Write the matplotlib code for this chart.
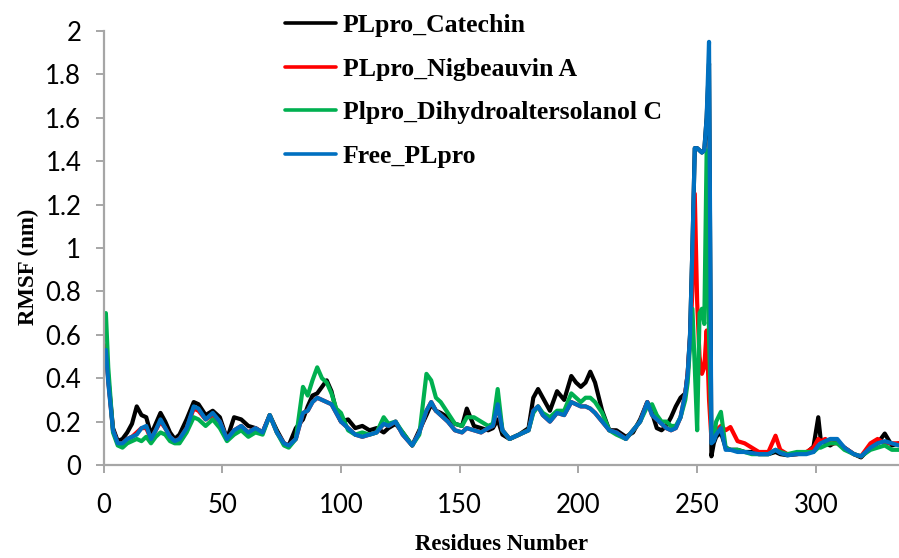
import matplotlib
matplotlib.use("Agg")
import matplotlib.pyplot as plt

residues = [1, 2, 4, 6, 8, 10, 12, 14, 16, 18, 20, 22, 24, 26, 28, 30, 32, 35, 38, 40,
            43, 46, 49, 52, 55, 58, 61, 64, 67, 70, 73, 76, 78, 81, 84, 86, 88, 90, 92, 94,
            96, 98, 100, 103, 106, 109, 112, 115, 118, 120, 123, 126, 130, 133, 136, 138, 140, 142, 145, 148,
            151, 153, 156, 159, 162, 164, 166, 168, 171, 175, 179, 181, 183, 185, 188, 191, 194, 197, 199, 201,
            203, 205, 207, 210, 213, 216, 220, 223, 226, 229, 231, 233, 235, 237, 239, 241, 243, 245, 246, 247,
            248, 249, 250, 251, 252, 253, 254, 255, 256, 257, 258, 260, 262, 264, 267, 270, 273, 276, 280, 283,
            285, 288, 292, 296, 299, 301, 302, 304, 306, 309, 312, 316, 319, 323, 326, 329, 332, 335]

catechin = [0.55, 0.40, 0.17, 0.11, 0.12, 0.15, 0.19, 0.27, 0.23, 0.22, 0.14, 0.19, 0.24, 0.20, 0.15, 0.12, 0.14, 0.21, 0.29, 0.28,
            0.23, 0.25, 0.22, 0.12, 0.22, 0.21, 0.18, 0.17, 0.15, 0.23, 0.16, 0.10, 0.09, 0.17, 0.21, 0.27, 0.32, 0.33, 0.36, 0.39,
            0.34, 0.25, 0.20, 0.21, 0.17, 0.18, 0.16, 0.17, 0.15, 0.17, 0.19, 0.15, 0.09, 0.16, 0.23, 0.28, 0.25, 0.24, 0.22, 0.19,
            0.18, 0.26, 0.18, 0.17, 0.16, 0.17, 0.21, 0.14, 0.12, 0.14, 0.17, 0.31, 0.35, 0.31, 0.25, 0.34, 0.30, 0.41, 0.38, 0.36,
            0.38, 0.43, 0.38, 0.25, 0.16, 0.16, 0.13, 0.15, 0.21, 0.29, 0.24, 0.17, 0.16, 0.18, 0.22, 0.27, 0.31, 0.33, 0.42, 0.60,
            1.00, 1.46, 1.46, 1.45, 1.44, 1.45, 1.60, 1.85, 0.04, 0.10, 0.13, 0.15, 0.08, 0.07, 0.07, 0.06, 0.06, 0.05, 0.05, 0.06,
            0.05, 0.045, 0.05, 0.055, 0.085, 0.22, 0.12, 0.10, 0.09, 0.11, 0.08, 0.05, 0.035, 0.08, 0.10, 0.145, 0.09, 0.10]

nigbeauvin = [0.55, 0.39, 0.16, 0.10, 0.10, 0.12, 0.13, 0.15, 0.17, 0.17, 0.12, 0.16, 0.20, 0.17, 0.13, 0.11, 0.12, 0.17, 0.26, 0.25,
              0.21, 0.23, 0.20, 0.12, 0.16, 0.18, 0.15, 0.17, 0.15, 0.23, 0.15, 0.10, 0.09, 0.12, 0.24, 0.25, 0.29, 0.31, 0.30, 0.29,
              0.28, 0.24, 0.20, 0.17, 0.14, 0.13, 0.14, 0.15, 0.19, 0.18, 0.20, 0.14, 0.09, 0.15, 0.25, 0.29, 0.25, 0.23, 0.20, 0.16,
              0.15, 0.17, 0.16, 0.15, 0.17, 0.18, 0.28, 0.16, 0.12, 0.14, 0.16, 0.25, 0.27, 0.23, 0.20, 0.24, 0.23, 0.29, 0.28, 0.27,
              0.27, 0.26, 0.24, 0.20, 0.16, 0.15, 0.12, 0.16, 0.20, 0.29, 0.23, 0.21, 0.19, 0.17, 0.16, 0.17, 0.22, 0.33, 0.42, 0.58,
              0.80, 1.25, 0.75, 0.50, 0.42, 0.45, 0.62, 0.30, 0.12, 0.14, 0.16, 0.18, 0.16, 0.175, 0.11, 0.10, 0.08, 0.06, 0.06, 0.135,
              0.07, 0.05, 0.05, 0.06, 0.08, 0.12, 0.11, 0.12, 0.10, 0.10, 0.08, 0.05, 0.04, 0.10, 0.12, 0.10, 0.10, 0.10]

dihydro = [0.70, 0.45, 0.15, 0.09, 0.08, 0.10, 0.11, 0.12, 0.11, 0.13, 0.10, 0.13, 0.15, 0.14, 0.11, 0.10, 0.10, 0.15, 0.22, 0.21,
           0.18, 0.21, 0.17, 0.11, 0.14, 0.16, 0.13, 0.15, 0.14, 0.23, 0.15, 0.09, 0.08, 0.12, 0.36, 0.32, 0.39, 0.45, 0.40, 0.38,
           0.33, 0.26, 0.24, 0.16, 0.14, 0.15, 0.14, 0.15, 0.22, 0.19, 0.20, 0.15, 0.09, 0.14, 0.42, 0.39, 0.31, 0.29, 0.24, 0.19,
           0.18, 0.22, 0.22, 0.20, 0.18, 0.19, 0.35, 0.16, 0.12, 0.14, 0.16, 0.24, 0.27, 0.24, 0.22, 0.25, 0.25, 0.33, 0.31, 0.29,
           0.31, 0.31, 0.29, 0.24, 0.16, 0.14, 0.12, 0.16, 0.20, 0.27, 0.28, 0.23, 0.20, 0.20, 0.18, 0.18, 0.22, 0.30, 0.38, 0.55,
           0.72, 0.45, 0.16, 0.70, 0.72, 0.65, 1.45, 0.60, 0.15, 0.12, 0.20, 0.245, 0.08, 0.07, 0.07, 0.06, 0.05, 0.05, 0.05, 0.07,
           0.06, 0.05, 0.06, 0.06, 0.06, 0.08, 0.08, 0.09, 0.10, 0.10, 0.07, 0.05, 0.04, 0.07, 0.08, 0.09, 0.07, 0.07]

free_plpro = [0.53, 0.38, 0.16, 0.10, 0.10, 0.12, 0.13, 0.14, 0.17, 0.18, 0.12, 0.16, 0.21, 0.17, 0.13, 0.11, 0.12, 0.17, 0.27, 0.26,
              0.21, 0.24, 0.20, 0.12, 0.16, 0.18, 0.15, 0.17, 0.15, 0.23, 0.15, 0.10, 0.09, 0.12, 0.24, 0.25, 0.29, 0.31, 0.30, 0.29,
              0.28, 0.24, 0.20, 0.17, 0.14, 0.13, 0.14, 0.15, 0.19, 0.18, 0.20, 0.14, 0.09, 0.15, 0.25, 0.29, 0.25, 0.23, 0.20, 0.16,
              0.15, 0.17, 0.16, 0.15, 0.17, 0.18, 0.28, 0.16, 0.12, 0.14, 0.16, 0.25, 0.27, 0.23, 0.20, 0.24, 0.23, 0.29, 0.28, 0.27,
              0.27, 0.26, 0.24, 0.20, 0.16, 0.15, 0.12, 0.16, 0.20, 0.29, 0.23, 0.21, 0.19, 0.17, 0.16, 0.17, 0.22, 0.33, 0.42, 0.60,
              1.00, 1.46, 1.46, 1.45, 1.44, 1.45, 1.60, 1.95, 0.10, 0.11, 0.14, 0.17, 0.07, 0.07, 0.06, 0.06, 0.055, 0.05, 0.05, 0.07,
              0.055, 0.045, 0.05, 0.05, 0.06, 0.09, 0.10, 0.11, 0.12, 0.12, 0.08, 0.05, 0.04, 0.08, 0.10, 0.11, 0.10, 0.09]

series_labels = ["PLpro_Catechin", "PLpro_Nigbeauvin A", "Plpro_Dihydroaltersolanol C", "Free_PLpro"]
series_colors = ["#000000", "#FF0000", "#00B050", "#0070C0"]
x_ticks = [0, 50, 100, 150, 200, 250, 300]
y_ticks = [0, 0.2, 0.4, 0.6, 0.8, 1, 1.2, 1.4, 1.6, 1.8, 2]
y_tick_labels = ["0", "0.2", "0.4", "0.6", "0.8", "1", "1.2", "1.4", "1.6", "1.8", "2"]

W, H = 899, 558
fig = plt.figure(figsize=(W / 100, H / 100), dpi=100)
ax = fig.add_axes([103.5 / W, 1 - 465 / H, (899 - 103.5) / W, (465 - 31) / H])

for vals, lab, col in zip([catechin, nigbeauvin, dihydro, free_plpro], series_labels, series_colors):
    ax.plot(residues, vals, color=col, lw=3.0, label=lab,
            solid_joinstyle="round", solid_capstyle="round")

ax.set_xlim(0, 335)
ax.set_ylim(0, 2)
ax.set_xticks(x_ticks)
ax.set_yticks(y_ticks)
ax.set_yticklabels(y_tick_labels)

gray = "#A6A6A6"
for s in ["top", "right"]:
    ax.spines[s].set_visible(False)
for s in ["left", "bottom"]:
    ax.spines[s].set_color(gray)
    ax.spines[s].set_linewidth(1.6)
ax.tick_params(axis="both", direction="out", length=6, width=1.4, color=gray,
               labelsize=18.5, labelcolor="#000000")
ax.tick_params(axis="y", pad=10)
ax.tick_params(axis="x", pad=14)
for t in ax.get_xticklabels() + ax.get_yticklabels():
    t.set_fontfamily("Lato")

ax.set_xlabel("Residues Number", fontfamily="Liberation Serif", fontweight="bold", fontsize=16.5)
ax.set_ylabel("RMSF (nm)", fontfamily="Liberation Serif", fontweight="bold", fontsize=16.5)
ax.xaxis.set_label_coords(0.5, (465 - 545) / 434, transform=ax.transAxes)
ax.yaxis.set_label_coords((28 - 103.5) / 795.5, (465 - 267) / 434)
ax.xaxis.label.set_va("center")
ax.yaxis.label.set_va("center")

leg = fig.legend(loc="upper left", bbox_to_anchor=(285 / W, 1 - 14 / H), frameon=False,
                 prop={"family": "Liberation Serif", "weight": "bold", "size": 18.5},
                 handlelength=2.0, handletextpad=0.25, labelspacing=0.8,
                 borderpad=0, borderaxespad=0)
for h in leg.get_lines():
    h.set_linewidth(2.6)

fig.savefig("out.png", dpi=100)
